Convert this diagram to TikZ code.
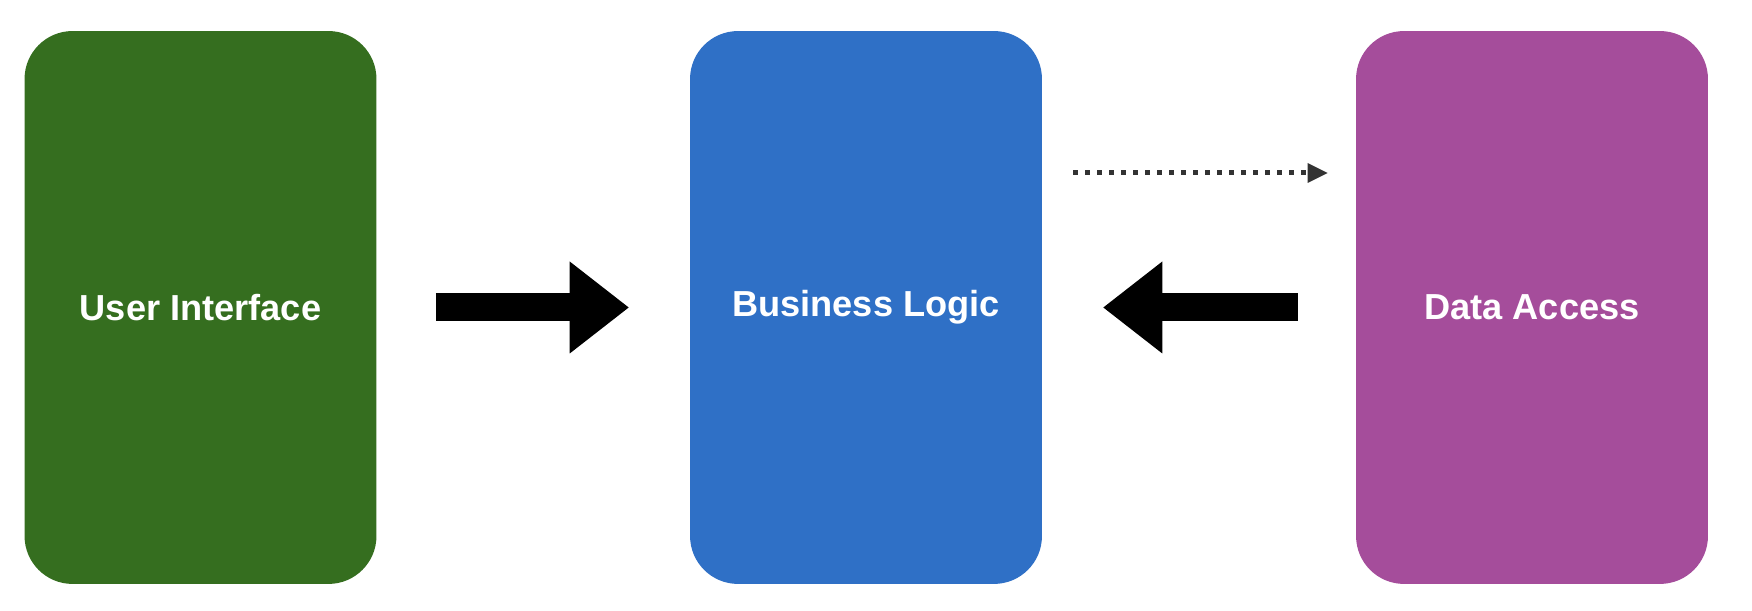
\documentclass[tikz,border=0pt]{standalone}
\usepackage{fontspec}
\newfontfamily\boxfont{Liberation Sans}
\usetikzlibrary{calc}
\usetikzlibrary{arrows.meta}

\definecolor{uigreen}{RGB}{53,110,31}
\definecolor{blblue}{RGB}{47,112,198}
\definecolor{dapurple}{RGB}{165,77,155}
\definecolor{dotgray}{RGB}{51,51,51}

\tikzset{
	layer/.style={rounded corners=0.96cm, minimum width=7.04cm, minimum height=11.06cm,
		inner sep=0pt, text=white, font=\boxfont\bfseries\fontsize{20.6}{25}\selectfont},
	bigarrow/.style={line width=0.56cm, shorten <=1.18cm, shorten >=1.22cm,
		-{Triangle[length=1.18cm, width=1.84cm, line width=0pt]}},
	callarrow/.style={dotgray, line width=0.1cm, dash pattern=on 0.1cm off 0.14cm,
		-{Triangle[length=0.4cm, width=0.4cm, line width=0pt]}}
}

\begin{document}
\begin{tikzpicture} [x=0.02cm, y=0.02cm]

		\useasboundingbox (0,0) rectangle (1752,611);

		% layers
		\node[layer, fill=uigreen] (ui) at (200.5,303.5) {User Interface};
		\node[layer, fill=blblue] (bl) at (866,303.5) {Business Logic};
		\node[layer, fill=dapurple] (da) at (1532,303.5) {Data Access};

		% dependencies
		\draw[bigarrow] (ui.east) -- (bl.west);
		\draw[bigarrow, shorten <=1.16cm] (da.west) -- (bl.east);

		% call at runtime
		\coordinate (callstart) at ($(bl.east)+(31,134.5)$);
		\coordinate (callend) at ($(da.west)+(-28,134.5)$);
		\draw[callarrow] (callstart) -- (callend);

\end{tikzpicture}
\end{document}
